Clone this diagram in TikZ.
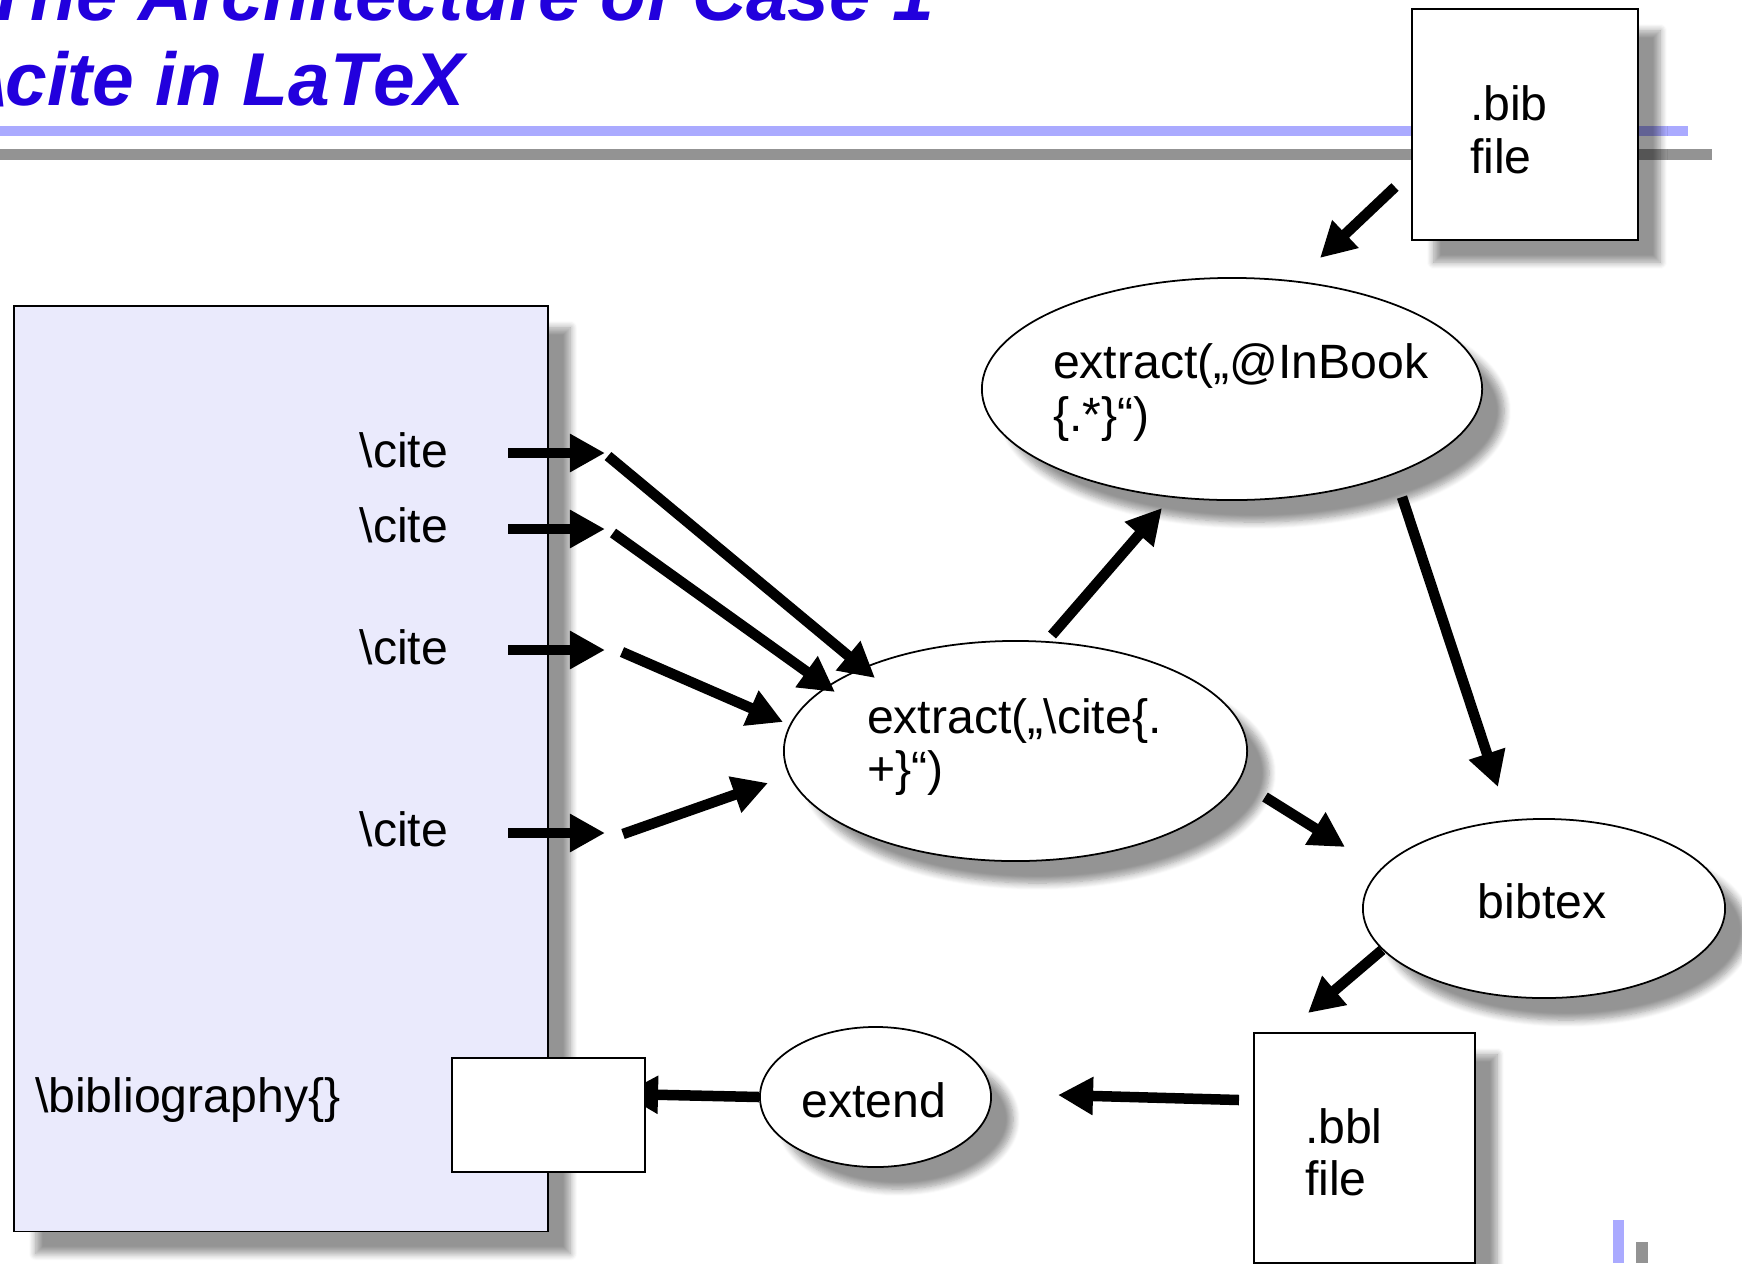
\documentclass[tikz,border=0pt]{standalone}
\usepackage{fontspec}
\setmainfont{Liberation Sans}
\usetikzlibrary{shapes.geometric,arrows.meta,shadows.blur}
\definecolor{titleblue}{RGB}{34,0,221}
\definecolor{ruleblue}{RGB}{170,170,255}
\definecolor{rulegray}{RGB}{147,147,147}
\definecolor{lavender}{RGB}{234,234,252}
\begin{document}
\begin{tikzpicture}[x=0.01cm,y=-0.01cm,
  lbl/.style={font=\fontsize{13.7pt}{15.1pt}\selectfont, inner sep=0pt, outer sep=0pt},
  ttl/.style={font=\fontsize{21.3pt}{24pt}\selectfont\bfseries\itshape, text=titleblue, inner sep=0pt, anchor=base west},
  shad/.style={blur shadow={shadow xshift=0.22cm,shadow yshift=-0.22cm,shadow opacity=42,shadow blur radius=0.07cm,shadow blur steps=8}},
  filebox/.style={draw, line width=0.5pt, fill=white, rectangle, anchor=north west, inner sep=0pt, shad},
  proc/.style={draw, line width=0.5pt, fill=white, ellipse, inner sep=0pt, shad},
  flow/.style={line width=0.105cm, -{Triangle[length=0.35cm,width=0.36cm]}},
]
\clip (0,0) rectangle (1742,1263);
% arrow end points
\coordinate (c1s) at (508,453); \coordinate (c1e) at (605,453);
\coordinate (c2s) at (508,529); \coordinate (c2e) at (605,529);
\coordinate (c3s) at (508,650); \coordinate (c3e) at (605,650);
\coordinate (c4s) at (508,833); \coordinate (c4e) at (605,833);
\coordinate (d1s) at (608,456); \coordinate (d1e) at (875,678);
\coordinate (d2s) at (613,533); \coordinate (d2e) at (835,692);
\coordinate (d3s) at (622,652); \coordinate (d3e) at (783,722);
\coordinate (d4s) at (623,834); \coordinate (d4e) at (768,783);
\coordinate (es) at (1052,635); \coordinate (ee) at (1162,508);
\coordinate (fs) at (1402,497); \coordinate (fe) at (1498,787);
\coordinate (gs) at (1265,797); \coordinate (ge) at (1345,847);
\coordinate (hs) at (1395,187); \coordinate (he) at (1320,258);
\coordinate (is) at (1382,950); \coordinate (ie) at (1308,1013);
\coordinate (js) at (1239,1100); \coordinate (je) at (1058,1095);
\coordinate (ke) at (623,1094);

% title
\node[ttl] (t1) at (-16,20) {The Architecture of Case 1};
\node[ttl] (t2) at (-16,105) {\textbackslash cite in LaTeX};
\fill[ruleblue] (0,126) rectangle (1688,136);
\fill[rulegray] (0,148.5) rectangle (1712,159.5);
\fill[ruleblue] (1613,1220) rectangle (1624,1263);
\fill[rulegray] (1636,1242) rectangle (1648,1263);

% document box
\node[draw, line width=0.5pt, fill=lavender, shad, anchor=north west, inner sep=0pt,
      minimum width=5.34cm, minimum height=9.25cm] (doc) at (13,305) {};
\node[lbl, anchor=base east] (k1) at (448,467) {\textbackslash cite};
\node[lbl, anchor=base east] (k2) at (448,542) {\textbackslash cite};
\node[lbl, anchor=base east] (k3) at (448,664) {\textbackslash cite};
\node[lbl, anchor=base east] (k4) at (448,846) {\textbackslash cite};
\node[lbl, anchor=base west] (bibl) at (35,1112) {\textbackslash bibliography\{\}};

% bib file
\node[filebox, minimum width=2.26cm, minimum height=2.31cm] (bib) at (1411,8) {};
\node[lbl, anchor=base west] (bib1) at (1470,120) {.bib};
\node[lbl, anchor=base west] (bib2) at (1470,173) {file};

% extract cite ellipse
\node[proc, minimum width=4.63cm, minimum height=2.2cm] (ex1) at (1015.5,751) {};
\node[lbl, anchor=base west] (ex1a) at (867,733) {extract(„\textbackslash cite\{.};
\node[lbl, anchor=base west] (ex1b) at (867,785) {+\}“)};

% cite arrows
\draw[flow] (c1s) -- (c1e);
\draw[flow] (c2s) -- (c2e);
\draw[flow] (c3s) -- (c3e);
\draw[flow] (c4s) -- (c4e);
\draw[flow] (d1s) -- (d1e);
\draw[flow] (d2s) -- (d2e);
\draw[flow] (d3s) -- (d3e);
\draw[flow] (d4s) -- (d4e);

% to / from InBook
\draw[flow] (es) -- (ee);
\draw[flow] (fs) -- (fe);
\node[proc, minimum width=5.0cm, minimum height=2.22cm] (ex2) at (1232,389) {};
\node[lbl, anchor=base west] (ex2a) at (1053,378) {extract(„@InBook};
\node[lbl, anchor=base west] (ex2b) at (1053,431) {\{.*\}“)};
\draw[flow] (gs) -- (ge);
\draw[flow] (hs) -- (he);

% bibtex
\node[proc, minimum width=3.62cm, minimum height=1.79cm] (bt) at (1544,908.5) {};
\node[lbl, anchor=base] (btt) at (1542,918) {bibtex};
\draw[flow] (is) -- (ie);

% bbl file
\node[filebox, minimum width=2.21cm, minimum height=2.30cm] (bbl) at (1253,1032) {};
\node[lbl, anchor=base west] (bbl1) at (1305,1143) {.bbl};
\node[lbl, anchor=base west] (bbl2) at (1305,1195) {file};
\draw[flow] (js) -- (je);

% extend
\node[proc, minimum width=2.31cm, minimum height=1.40cm] (ext) at (875.5,1097) {};
\node[lbl, anchor=base] (extt) at (874,1117) {extend};
\draw[flow] (ext.west) -- (ke);
\node[draw, line width=0.5pt, fill=white, anchor=north west, inner sep=0pt,
      minimum width=1.93cm, minimum height=1.14cm] (slot) at (451,1057) {};
\end{tikzpicture}
\end{document}
